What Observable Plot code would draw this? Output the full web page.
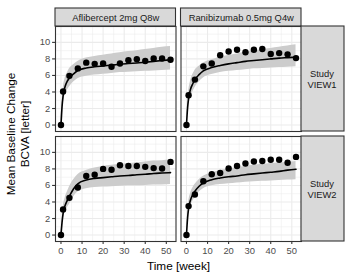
<!DOCTYPE html>
<html><head><meta charset="utf-8">
<style>
body{margin:0;background:#fff}
svg, svg text{font-family:"Liberation Sans", Arial, Helvetica, sans-serif !important}
</style>
<script src="https://cdn.jsdelivr.net/npm/d3@7"></script>
<script src="https://cdn.jsdelivr.net/npm/@observablehq/plot@0.6"></script>
</head><body><div id="chart"></div>
<script>
const drugs = ["Aflibercept 2mg Q8w", "Ranibizumab 0.5mg Q4w"];
const studies = ["VIEW1", "VIEW2"];
const xTicks = [0, 10, 20, 30, 40, 50];
const xMinor = [5, 15, 25, 35, 45];
const yTicks = [0, 2, 4, 6, 8, 10];
const yMinor = [1, 3, 5, 7, 9, 11];

const obsWeeks = [0, 1, 4, 8, 12, 16, 20, 24, 28, 32, 36, 40, 44, 48, 52];
const obsAfliView1 = [0, 4.05, 5.95, 6.85, 7.55, 7.4, 7.45, 7.05, 7.45, 7.85, 7.95, 7.75, 8.05, 8.05, 7.9];
const obsRaniView1 = [0, 3.6, 5.5, 7.1, 7.45, 8.45, 8.9, 9.1, 8.8, 9.1, 9.2, 8.6, 8.7, 8.55, 8.1];
const obsAfliView2 = [0, 3.1, 4.5, 5.75, 7.15, 7.3, 8.0, 7.9, 8.45, 8.35, 8.35, 8.25, 8.1, 8.05, 8.85];
const obsRaniView2 = [0, 3.5, 4.9, 6.5, 7.35, 7.5, 8.05, 8.35, 8.65, 8.9, 8.95, 9.1, 9.1, 8.75, 9.45];

const fitWeeks = [0, 0.5, 1, 2, 3, 4, 6, 8, 12, 16, 20, 24, 28, 32, 36, 40, 44, 48, 52];
const fitAfliView1 = [0, 2.2, 3.5, 4.7, 5.3, 5.7, 6.2, 6.6, 6.9, 7.05, 7.15, 7.25, 7.35, 7.45, 7.5, 7.6, 7.7, 7.8, 7.9];
const loAfliView1  = [0, 1.6, 2.6, 3.6, 4.2, 4.6, 5.2, 5.6, 5.9, 6.05, 6.15, 6.25, 6.35, 6.4, 6.45, 6.5, 6.55, 6.6, 6.65];
const hiAfliView1  = [0, 2.8, 4.3, 5.7, 6.3, 6.8, 7.3, 7.7, 8.1, 8.3, 8.45, 8.6, 8.75, 8.9, 9.0, 9.15, 9.25, 9.4, 9.5];
const fitRaniView1 = [0, 2.0, 3.2, 4.4, 5.0, 5.5, 6.1, 6.55, 6.95, 7.2, 7.4, 7.55, 7.7, 7.8, 7.9, 8.0, 8.1, 8.15, 8.2];
const loRaniView1  = [0, 1.5, 2.4, 3.4, 4.0, 4.5, 5.2, 5.7, 6.1, 6.35, 6.5, 6.6, 6.7, 6.8, 6.85, 6.9, 6.95, 7.0, 7.05];
const hiRaniView1  = [0, 2.6, 4.0, 5.4, 6.1, 6.6, 7.1, 7.5, 7.9, 8.2, 8.4, 8.6, 8.8, 8.95, 9.1, 9.25, 9.4, 9.55, 9.7];
const fitAfliView2 = [0, 1.5, 2.6, 3.6, 4.2, 4.7, 5.6, 6.2, 6.65, 6.85, 6.95, 7.05, 7.15, 7.2, 7.3, 7.35, 7.45, 7.5, 7.55];
const loAfliView2  = [0, 1.1, 1.9, 2.8, 3.3, 3.7, 4.6, 5.2, 5.6, 5.75, 5.8, 5.85, 5.9, 5.95, 5.95, 6.0, 6.05, 6.05, 6.1];
const hiAfliView2  = [0, 2.0, 3.3, 4.5, 5.2, 5.8, 6.7, 7.3, 7.8, 8.1, 8.3, 8.45, 8.55, 8.65, 8.75, 8.85, 8.95, 9.0, 9.1];
const fitRaniView2 = [0, 2.0, 3.2, 4.3, 4.9, 5.3, 5.9, 6.3, 6.7, 6.9, 7.05, 7.15, 7.3, 7.4, 7.5, 7.6, 7.7, 7.85, 7.95];
const loRaniView2  = [0, 1.5, 2.5, 3.5, 4.1, 4.5, 5.2, 5.6, 5.95, 6.1, 6.2, 6.3, 6.4, 6.45, 6.5, 6.55, 6.6, 6.65, 6.7];
const hiRaniView2  = [0, 2.5, 3.9, 5.1, 5.7, 6.1, 6.7, 7.1, 7.5, 7.8, 8.0, 8.15, 8.3, 8.45, 8.55, 8.65, 8.7, 8.8, 8.9];

const panels = [
  {drug: drugs[0], study: studies[0], obs: obsAfliView1, fit: fitAfliView1, lo: loAfliView1, hi: hiAfliView1},
  {drug: drugs[1], study: studies[0], obs: obsRaniView1, fit: fitRaniView1, lo: loRaniView1, hi: hiRaniView1},
  {drug: drugs[0], study: studies[1], obs: obsAfliView2, fit: fitAfliView2, lo: loAfliView2, hi: hiAfliView2},
  {drug: drugs[1], study: studies[1], obs: obsRaniView2, fit: fitRaniView2, lo: loRaniView2, hi: hiRaniView2}
];
const obsData = panels.flatMap(p => obsWeeks.map((w, i) => ({drug: p.drug, study: p.study, week: w, value: p.obs[i]})));
const fitData = panels.flatMap(p => fitWeeks.map((w, i) => ({drug: p.drug, study: p.study, week: w, fit: p.fit[i], lo: p.lo[i], hi: p.hi[i]})));
const topStrips = drugs.map(d => ({drug: d, study: studies[0], label: d}));
const rightStrips = studies.map(s => ({drug: drugs[1], study: s, label: "Study\n" + s}));

const W = 350, H = 278, mL = 55, mR = 49, mT = 26, mB = 37, gap = 5;
const panelW = (W - mL - mR - gap) / 2;
const panelH = (H - mT - mB - gap) / 2;
const stripH = 18, stripW = 43;
const font = "Liberation Sans, Arial, Helvetica, sans-serif";

const chart = Plot.plot({
  width: W, height: H,
  marginLeft: mL, marginRight: mR, marginTop: mT, marginBottom: mB,
  style: {fontFamily: font, background: "#fff", overflow: "visible"},
  fx: {domain: drugs, paddingInner: gap / (panelW + gap), paddingOuter: 0, round: false, axis: null},
  fy: {domain: studies, paddingInner: gap / (panelH + gap), paddingOuter: 0, round: false, axis: null},
  x: {domain: [-2.6, 54.6]},
  y: {domain: [-0.78, 11.92]},
  marks: [
    Plot.gridX(xMinor, {stroke: "#ebebeb", strokeOpacity: 1, strokeWidth: 0.55}),
    Plot.gridY(yMinor, {stroke: "#ebebeb", strokeOpacity: 1, strokeWidth: 0.55}),
    Plot.gridX(xTicks, {stroke: "#ebebeb", strokeOpacity: 1, strokeWidth: 1.1}),
    Plot.gridY(yTicks, {stroke: "#ebebeb", strokeOpacity: 1, strokeWidth: 1.1}),
    Plot.areaY(fitData, {x: "week", y1: "lo", y2: "hi", fx: "drug", fy: "study", fill: "#cccccc", curve: "monotone-x"}),
    Plot.line(fitData, {x: "week", y: "fit", fx: "drug", fy: "study", stroke: "#000", strokeWidth: 1.6, curve: "monotone-x"}),
    Plot.dot(obsData, {x: "week", y: "value", fx: "drug", fy: "study", r: 3.2, fill: "#000"}),
    Plot.frame({stroke: "#333333", strokeWidth: 1.1}),
    Plot.rect(topStrips, {fx: "drug", fy: "study", insetTop: -stripH, insetBottom: panelH, fill: "#d9d9d9", stroke: "#333333", strokeWidth: 1.1}),
    Plot.text(topStrips, {fx: "drug", fy: "study", text: "label", frameAnchor: "top", dy: -stripH / 2, textAnchor: "middle", lineAnchor: "middle", fontSize: 9.4, fill: "#1a1a1a"}),
    Plot.rect(rightStrips, {fx: "drug", fy: "study", insetLeft: panelW, insetRight: -stripW, fill: "#d9d9d9", stroke: "#333333", strokeWidth: 1.1}),
    Plot.text(rightStrips, {fx: "drug", fy: "study", text: "label", frameAnchor: "right", dx: stripW / 2 - 1, textAnchor: "middle", lineAnchor: "middle", lineHeight: 1.15, fontSize: 9.4, fill: "#1a1a1a"}),
    Plot.axisX({ticks: xTicks, tickSize: 2.9, tickPadding: 2.5, fontSize: 9.4, fill: "#4d4d4d", stroke: "#333333", strokeWidth: 1.1, label: null}),
    Plot.axisY({ticks: yTicks, tickSize: 2.9, tickPadding: 2.5, fontSize: 9.4, fill: "#4d4d4d", stroke: "#333333", strokeWidth: 1.1, label: null}),
    Plot.text([{drug: drugs[0], study: studies[1], label: "Time [week]"}], {fx: "drug", fy: "study", text: "label", frameAnchor: "bottom-right", dx: gap / 2, dy: 25, textAnchor: "middle", lineAnchor: "middle", fontSize: 11.8, fill: "#000"}),
    Plot.text([{drug: drugs[0], study: studies[0], label: "Mean Baseline Change\nBCVA [letter]"}], {fx: "drug", fy: "study", text: "label", frameAnchor: "bottom-left", dx: -38, dy: gap / 2, rotate: -90, textAnchor: "middle", lineAnchor: "middle", lineHeight: 1.15, fontSize: 11.8, fill: "#000"})
  ]
});
document.getElementById("chart").appendChild(chart);
</script>
</body></html>
